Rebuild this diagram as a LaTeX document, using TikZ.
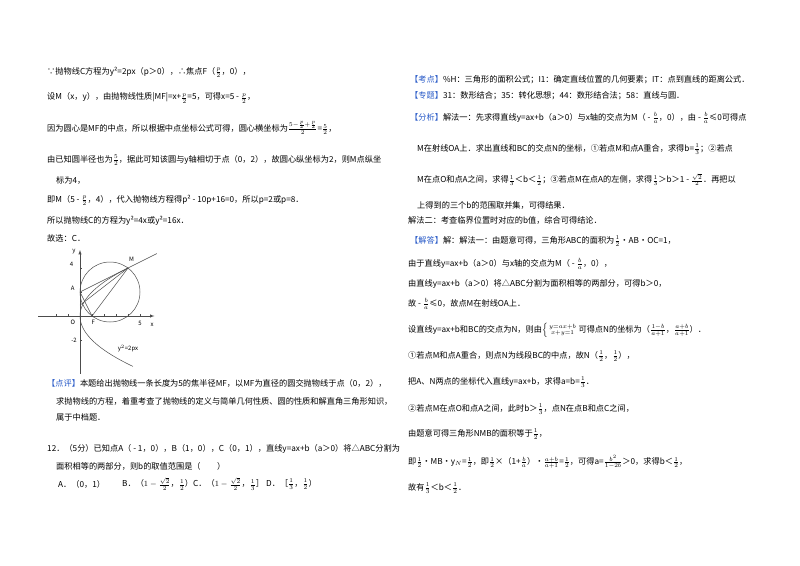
\documentclass[tikz,border=0pt]{standalone}
\usepackage{fontspec}
\usepackage{amsmath}
\usetikzlibrary{calc}
\setmainfont{Noto Sans CJK SC}
\definecolor{tagblue}{RGB}{40,90,200}
\newcommand{\tg}[1]{\textcolor{tagblue}{【#1】}}
\begin{document}
\begin{tikzpicture}[x=1pt,y=-1pt,
  t/.style={anchor=west,inner sep=0pt,font=\fontsize{8.2}{9}\selectfont},
  fig/.style={draw=black!70,line width=0.5pt}]
\useasboundingbox (0,0) rectangle (800,565);
\fill[white] (0,0) rectangle (800,565);
% left column
\node[t] (l1) at (47,72) {∵抛物线C方程为y²=2px（p＞0），∴焦点F（$\frac{p}{2}$，0），};
\node[t] (l2) at (47,98) {设M（x，y），由抛物线性质|MF|=x+$\frac{p}{2}$=5，可得x=5 - $\frac{p}{2}$，};
\node[t] (l3) at (47,128) {因为圆心是MF的中点，所以根据中点坐标公式可得，圆心横坐标为$\frac{5-\frac{p}{2}+\frac{p}{2}}{2}$=$\frac{5}{2}$，};
\node[t] (l4) at (47,160) {由已知圆半径也为$\frac{5}{2}$，据此可知该圆与y轴相切于点（0，2），故圆心纵坐标为2，则M点纵坐};
\node[t] (l5) at (56,180) {标为4，};
\node[t] (l6) at (47,200) {即M（5 - $\frac{p}{2}$，4），代入抛物线方程得p² - 10p+16=0，所以p=2或p=8．};
\node[t] (l7) at (47,221) {所以抛物线C的方程为y²=4x或y²=16x．};
\node[t] (l8) at (47,238) {故选：C．};
% figure
\begin{scope}[shift={(80,316)},x=12pt,y=12pt]
\draw[fig,-latex] (-3.5,0) -- (6.2,0);
\draw[fig,-latex] (0,-4.8) -- (0,5.5);
\foreach \i in {-2,-1,1,2,3,4,5} \draw[fig] (\i,0) -- (\i,0.15);
\foreach \j in {-2,2,4} \draw[fig] (0,\j) -- (0.15,\j);
\draw[fig] (2.5,2) circle (2.5);
\draw[fig,domain=-4.2:4,samples=60,smooth] plot ({\x*\x/4},\x);
\coordinate (A) at (0,2); \coordinate (F) at (1,0); \coordinate (M) at (4,4);
\coordinate (E) at ($(A)!1.6!(M)$);
\coordinate (P) at (0,0.9);
\draw[fig] (A) -- (M) -- (E);
\draw[fig] (A) -- (F) -- (M);
\draw[fig] (P) -- (M);
\node[font=\fontsize{6}{6}\selectfont] at (-0.7,4.3) {4};
\node[font=\fontsize{6}{6}\selectfont\itshape] at (-0.5,5.4) {y};
\node[font=\fontsize{6}{6}\selectfont\itshape] at (4.3,4.7) {M};
\node[font=\fontsize{6}{6}\selectfont\itshape] at (-0.6,2.3) {A};
\node[font=\fontsize{6}{6}\selectfont\itshape] at (-0.6,-0.5) {O};
\node[font=\fontsize{6}{6}\selectfont\itshape] at (1.1,-0.5) {F};
\node[font=\fontsize{6}{6}\selectfont] at (5,-0.65) {5};
\node[font=\fontsize{6}{6}\selectfont\itshape] at (6,-0.7) {x};
\node[font=\fontsize{6}{6}\selectfont] at (-0.5,-2) {-2};
\node[font=\fontsize{6}{6}\selectfont\itshape] at (4,-2.7) {y$^2$=2px};
\end{scope}
\node[t] (d1) at (47,383) {\tg{点评}本题给出抛物线一条长度为5的焦半径MF，以MF为直径的圆交抛物线于点（0，2），};
\node[t] (d2) at (56,401) {求抛物线的方程，着重考查了抛物线的定义与简单几何性质、圆的性质和解直角三角形知识，};
\node[t] (d3) at (56,417) {属于中档题．};
\node[t] (q1) at (47,449) {12．（5分）已知点A（ - 1，0），B（1，0），C（0，1），直线y=ax+b（a＞0）将△ABC分割为};
\node[t] (q2) at (56,466) {面积相等的两部分，则b的取值范围是（　　）};
\node[t] (qa) at (58,484) {A．（0，1）};
\node[t] (qb) at (122,484) {B．（$1-\frac{\sqrt2}{2}$，$\frac12$）};
\node[t] (qc) at (193,484) {C．（$1-\frac{\sqrt2}{2}$，$\frac13$］};
\node[t] (qd) at (266,484) {D．［$\frac13$，$\frac12$）};
% right column
\node[t] (r1) at (410,80) {\tg{考点}\%H：三角形的面积公式；I1：确定直线位置的几何要素；IT：点到直线的距离公式．};
\node[t] (r2) at (410,96) {\tg{专题}31：数形结合；35：转化思想；44：数形结合法；58：直线与圆．};
\node[t] (r3) at (410,118) {\tg{分析}解法一：先求得直线y=ax+b（a＞0）与x轴的交点为M（ - $\frac{b}{a}$，0），由 - $\frac{b}{a}$≤0可得点};
\node[t] (r4) at (417,149) {M在射线OA上．求出直线和BC的交点N的坐标，①若点M和点A重合，求得b=$\frac13$；②若点};
\node[t] (r5) at (417,180) {M在点O和点A之间，求得$\frac13$＜b＜$\frac12$；③若点M在点A的左侧，求得$\frac13$＞b＞1 - $\frac{\sqrt2}{2}$．再把以};
\node[t] (r6) at (417,205) {上得到的三个b的范围取并集，可得结果．};
\node[t] (r7) at (408,220) {解法二：考查临界位置时对应的b值，综合可得结论．};
\node[t] (r8) at (410,241) {\tg{解答}解：解法一：由题意可得，三角形ABC的面积为$\frac12$•AB•OC=1，};
\node[t] (r9) at (408,264) {由于直线y=ax+b（a＞0）与x轴的交点为M（ - $\frac{b}{a}$，0），};
\node[t] (r10) at (408,284) {由直线y=ax+b（a＞0）将△ABC分割为面积相等的两部分，可得b＞0，};
\node[t] (r11) at (408,304) {故 - $\frac{b}{a}$≤0，故点M在射线OA上．};
\node[t] (r12) at (408,330) {设直线y=ax+b和BC的交点为N，则由$\left\{\begin{smallmatrix}y=ax+b\\ x+y=1\end{smallmatrix}\right.$可得点N的坐标为（$\frac{1-b}{a+1}$，$\frac{a+b}{a+1}$）．};
\node[t] (r13) at (408,356) {①若点M和点A重合，则点N为线段BC的中点，故N（$\frac12$，$\frac12$），};
\node[t] (r14) at (408,382) {把A、N两点的坐标代入直线y=ax+b，求得a=b=$\frac13$．};
\node[t] (r15) at (408,409) {②若点M在点O和点A之间，此时b＞$\frac13$，点N在点B和点C之间，};
\node[t] (r16) at (408,434) {由题意可得三角形NMB的面积等于$\frac12$，};
\node[t] (r17) at (408,462) {即$\frac12$•MB•y$_N$=$\frac12$，即$\frac12$×（1+$\frac{b}{a}$）•$\frac{a+b}{a+1}$=$\frac12$，可得a=$\frac{b^2}{1-2b}$＞0，求得b＜$\frac12$，};
\node[t] (r18) at (408,488) {故有$\frac13$＜b＜$\frac12$．};
\end{tikzpicture}
\end{document}
